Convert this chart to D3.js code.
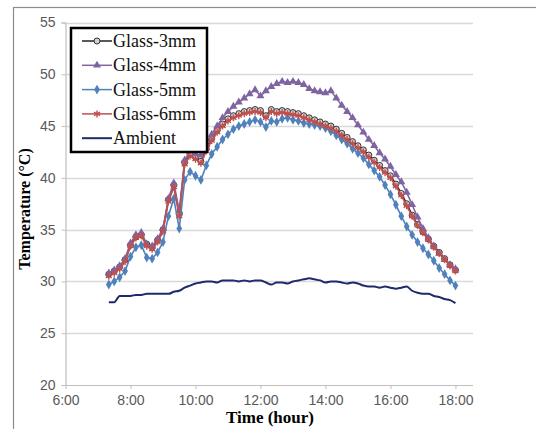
<!DOCTYPE html>
<html>
<head>
<meta charset="utf-8">
<script src="https://cdn.jsdelivr.net/npm/d3@7"></script>
<style>
  body { margin: 0; background: #fff; }
  svg { display: block; }
</style>
</head>
<body>
<div id="chart"></div>
<script>
// time of each reading (10 min steps)
var times = [
  "7:20","7:30","7:40","7:50",
  "8:00","8:10","8:20","8:30","8:40","8:50",
  "9:00","9:10","9:20","9:30","9:40","9:50",
  "10:00","10:10","10:20","10:30","10:40","10:50",
  "11:00","11:10","11:20","11:30","11:40","11:50",
  "12:00","12:10","12:20","12:30","12:40","12:50",
  "13:00","13:10","13:20","13:30","13:40","13:50",
  "14:00","14:10","14:20","14:30","14:40","14:50",
  "15:00","15:10","15:20","15:30","15:40","15:50",
  "16:00","16:10","16:20","16:30","16:40","16:50",
  "17:00","17:10","17:20","17:30","17:40","17:50",
  "18:00"];

var glass3 = [
  30.7, 31.0, 31.4, 32.1,
  33.5, 34.3, 34.5, 33.6, 33.3, 34.0,
  35.0, 37.9, 39.3, 36.5, 41.5, 42.3,
  42.0, 41.6, 42.8, 43.8, 44.6, 45.2,
  45.7, 46.0, 46.2, 46.4, 46.5, 46.6,
  46.5, 46.0, 46.6, 46.4, 46.5, 46.4,
  46.3, 46.2, 46.0, 45.8, 45.6, 45.4,
  45.2, 45.0, 44.7, 44.3, 43.9, 43.5,
  43.1, 42.7, 42.2, 41.7, 41.2, 40.7,
  40.2, 39.4, 38.5, 37.5, 36.4, 35.5,
  34.8, 34.1, 33.4, 32.8, 32.2, 31.6,
  31.1];

var glass4 = [
  30.8, 31.1, 31.5, 32.2,
  33.7, 34.5, 34.7, 33.6, 33.4, 34.1,
  35.1, 38.0, 39.5, 36.8, 41.7, 42.6,
  42.3, 42.2, 43.2, 44.2, 45.0, 45.8,
  46.4, 46.9, 47.3, 47.7, 48.1, 48.5,
  47.9, 48.4, 48.8, 49.1, 49.3, 49.2,
  49.3, 49.2, 49.0, 48.6, 48.4, 48.3,
  48.2, 48.4, 47.7, 47.0, 46.4, 45.8,
  45.1, 44.4, 43.7, 43.1, 42.4, 41.8,
  41.1, 40.3, 39.6, 38.6, 37.4, 36.2,
  35.1, 34.2, 33.4, 32.7, 32.1, 31.6,
  31.2];

var glass5 = [
  29.7, 30.0, 30.4, 31.0,
  32.4, 33.3, 33.5, 32.3, 32.2, 32.8,
  33.8, 36.3, 38.0, 35.1, 39.8, 40.6,
  40.2, 39.8, 41.2, 42.3, 43.0, 43.7,
  44.2, 44.7, 45.0, 45.2, 45.4, 45.6,
  45.4, 44.9, 45.5, 45.4, 45.7, 45.8,
  45.6, 45.5, 45.3, 45.2, 45.1, 45.0,
  44.8, 44.5, 44.1, 43.7, 43.3, 42.8,
  42.4, 41.9, 41.3, 40.7, 40.1, 39.3,
  38.4, 37.4, 36.3, 35.3, 34.5, 33.8,
  33.2, 32.6, 32.0, 31.3, 30.7, 30.1,
  29.6];

var glass6 = [
  30.5, 30.8, 31.2, 31.9,
  33.4, 34.2, 34.4, 33.4, 33.1, 33.8,
  34.8, 37.7, 39.1, 36.3, 41.3, 42.1,
  41.8, 41.4, 42.6, 43.6, 44.4, 45.0,
  45.5, 45.8, 46.0, 46.2, 46.3, 46.4,
  46.3, 45.8, 46.4, 46.2, 46.3, 46.2,
  46.1, 46.0, 45.8, 45.6, 45.4, 45.2,
  45.0, 44.8, 44.5, 44.1, 43.7, 43.3,
  42.9, 42.5, 42.0, 41.5, 41.0, 40.5,
  40.0, 39.2, 38.3, 37.3, 36.3, 35.4,
  34.7, 34.0, 33.3, 32.7, 32.1, 31.5,
  31.0];

var ambient = [
  28.0, 28.0, 28.6, 28.6,
  28.6, 28.7, 28.7, 28.8, 28.8, 28.8,
  28.8, 28.8, 29.0, 29.1, 29.4, 29.6,
  29.8, 29.9, 30.0, 30.0, 29.9, 30.1,
  30.1, 30.1, 30.0, 30.1, 30.0, 30.1,
  30.1, 29.9, 29.7, 29.9, 29.9, 29.8,
  30.0, 30.1, 30.2, 30.3, 30.2, 30.1,
  29.9, 30.0, 30.0, 29.9, 29.8, 29.9,
  29.8, 29.6, 29.5, 29.5, 29.4, 29.5,
  29.4, 29.3, 29.4, 29.5, 29.1, 28.9,
  28.8, 28.8, 28.6, 28.5, 28.3, 28.2,
  27.9];

var seriesNames = ["Glass-3mm", "Glass-4mm", "Glass-5mm", "Glass-6mm", "Ambient"];
var xTicks = ["6:00", "8:00", "10:00", "12:00", "14:00", "16:00", "18:00"];
var yTicks = [20, 25, 30, 35, 40, 45, 50, 55];

function toHours(s) {
  var p = s.split(":");
  return +p[0] + (+p[1]) / 60;
}

var width = 536, height = 429;

var svg = d3.select("#chart").append("svg")
  .attr("width", width)
  .attr("height", height);

// outer chart frame
svg.append("rect")
  .attr("x", 13.5).attr("y", 7.5)
  .attr("width", 600).attr("height", 500)
  .attr("fill", "#fff")
  .attr("stroke", "#8c8c8c")
  .attr("stroke-width", 1.2);

//////// SCALES ////////
var xScale = d3.scaleLinear().domain([6, 18.54]).range([65.5, 473]);
var yScale = d3.scaleLinear().domain([20, 55]).range([385, 22.5]);

var series = [
  { name: seriesNames[0], values: glass3, color: "#222", marker: "circle" },
  { name: seriesNames[1], values: glass4, color: "#8064a2", marker: "triangle" },
  { name: seriesNames[2], values: glass5, color: "#4f81bd", marker: "diamond" },
  { name: seriesNames[3], values: glass6, color: "#c0504d", marker: "star" },
  { name: seriesNames[4], values: ambient, color: "#1f2a6a", marker: null }
];

//////// GRID ////////
svg.append("g")
  .selectAll("line")
  .data(yTicks.slice(1))
  .enter().append("line")
    .attr("x1", xScale(6)).attr("x2", xScale(18.54))
    .attr("y1", function(d) { return Math.round(yScale(d)) + 0.5; })
    .attr("y2", function(d) { return Math.round(yScale(d)) + 0.5; })
    .attr("stroke", "#d9d9d9")
    .attr("stroke-width", 1.5);

//////// AXES ////////
var xAxis = svg.append("g")
  .attr("transform", "translate(0," + yScale(20) + ")")
  .call(d3.axisBottom(xScale)
    .tickValues(xTicks.map(toHours))
    .tickSize(4)
    .tickFormat(function(d, i) { return xTicks[i]; }));

var yAxis = svg.append("g")
  .attr("transform", "translate(" + xScale(6) + ",0)")
  .call(d3.axisLeft(yScale)
    .tickValues(yTicks)
    .tickSize(4)
    .tickFormat(d3.format("d")));

[xAxis, yAxis].forEach(function(a) {
  a.select(".domain").attr("stroke", "#bfbfbf").attr("stroke-width", 1.2);
  a.selectAll(".tick line").attr("stroke", "#bfbfbf");
  a.selectAll(".tick text")
    .attr("fill", "#595959")
    .attr("font-family", "'Liberation Sans', Arial, sans-serif")
    .attr("font-size", 14);
});
xAxis.select(".domain").attr("d", "M" + xScale(6) + ",0.5H" + xScale(18.54));
xAxis.selectAll(".tick text").attr("y", 10);
yAxis.selectAll(".tick text").attr("x", -10);

// axis titles
svg.append("text")
  .attr("x", 270).attr("y", 423)
  .attr("text-anchor", "middle")
  .attr("font-family", "'Liberation Serif', 'Times New Roman', serif")
  .attr("font-weight", "bold")
  .attr("font-size", 17)
  .text("Time (hour)");

svg.append("text")
  .attr("transform", "translate(30,209) rotate(-90)")
  .attr("text-anchor", "middle")
  .attr("font-family", "'Liberation Serif', 'Times New Roman', serif")
  .attr("font-weight", "bold")
  .attr("font-size", 16)
  .text("Temperature (\u00B0C)");

//////// MARKERS ////////
function drawMarker(sel, s) {
  if (s.marker === "circle") {
    sel.append("circle").attr("r", 3)
      .attr("fill", "#d0d0d0").attr("stroke", "#333").attr("stroke-width", 1);
  } else if (s.marker === "triangle") {
    sel.append("path").attr("d", d3.symbol(d3.symbolTriangle, 28)())
      .attr("fill", s.color);
  } else if (s.marker === "diamond") {
    sel.append("path").attr("d", d3.symbol(d3.symbolDiamond, 28)())
      .attr("fill", s.color);
  } else if (s.marker === "star") {
    sel.append("path").attr("d", d3.symbol(d3.symbolAsterisk, 34)())
      .attr("fill", "none").attr("stroke", s.color).attr("stroke-width", 1.4);
  }
}

//////// LINES ////////
var line = d3.line()
  .x(function(d, i) { return xScale(toHours(times[i])); })
  .y(function(d) { return yScale(d); });

var lineSmooth = d3.line()
  .x(function(d, i) { return xScale(toHours(times[i])); })
  .y(function(d) { return yScale(d); })
  .curve(d3.curveMonotoneX);

series.forEach(function(s) {
  var g = svg.append("g");
  g.append("path")
    .datum(s.values)
    .attr("d", s.marker ? line : lineSmooth)
    .attr("fill", "none")
    .attr("stroke", s.color)
    .attr("stroke-width", s.marker ? 1.6 : 2);
  if (s.marker) {
    g.selectAll("g.pt")
      .data(s.values)
      .enter().append("g")
        .attr("class", "pt")
        .attr("transform", function(d, i) {
          return "translate(" + xScale(toHours(times[i])) + "," + yScale(d) + ")";
        })
        .each(function() { drawMarker(d3.select(this), s); });
  }
});

//////// LEGEND ////////
var legend = svg.append("g");
legend.append("rect")
  .attr("x", 71).attr("y", 28)
  .attr("width", 136).attr("height", 124)
  .attr("fill", "#fff")
  .attr("stroke", "#000")
  .attr("stroke-width", 2.5);

var items = legend.selectAll("g.lgd")
  .data(series)
  .enter().append("g")
    .attr("class", "lgd")
    .attr("transform", function(d, i) { return "translate(0," + (41 + i * 24.3) + ")"; });

items.append("line")
  .attr("x1", 82).attr("x2", 112)
  .attr("stroke", function(d) { return d.color; })
  .attr("stroke-width", function(d) { return d.marker ? 1.5 : 2; });

items.each(function(d) {
  if (d.marker) {
    var m = d3.select(this).append("g").attr("transform", "translate(97,0)");
    drawMarker(m, d);
  }
});

items.append("text")
  .attr("x", 113)
  .attr("y", 0)
  .attr("dy", "0.33em")
  .attr("font-family", "'Liberation Serif', 'Times New Roman', serif")
  .attr("font-size", 18)
  .attr("fill", "#111")
  .text(function(d) { return d.name; });
</script>
</body>
</html>
